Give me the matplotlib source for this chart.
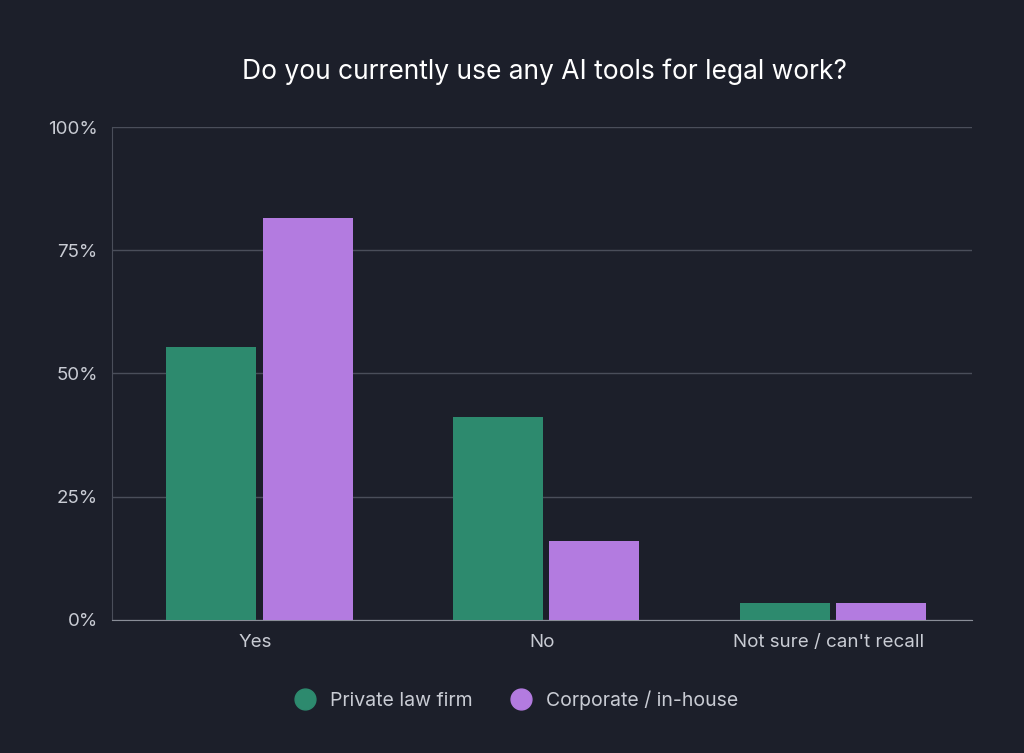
import matplotlib
matplotlib.use("Agg")
import matplotlib.pyplot as plt
import numpy as np

categories = ["Yes", "No", "Not sure / can't recall"]
series_names = ["Private law firm", "Corporate / in-house"]
private = [55.4, 41.2, 3.4]
corporate = [81.5, 16.0, 3.4]
yticks = [0, 25, 50, 75, 100]
ytick_labels = ["0%", "25%", "50%", "75%", "100%"]

bg = "#1c1f2a"
green = "#2d8a6e"
purple = "#b37be0"
txt = "#c9ccd4"
grid = "#4a4e5a"

plt.rcParams['font.family'] = ['Inter', 'DejaVu Sans']
fig = plt.figure(figsize=(10.24, 7.53), dpi=100, facecolor=bg)
ax = fig.add_axes([0.109, 0.177, 0.84, 0.654], facecolor=bg)
x = np.arange(len(categories))
w = 0.314
ax.bar(x - 0.153, private, w, color=green, label=series_names[0], zorder=3)
ax.bar(x + 0.184, corporate, w, color=purple, label=series_names[1], zorder=3)
ax.set_xlim(-0.5, 2.5)
ax.set_ylim(0, 100)
ax.set_yticks(yticks, ytick_labels)
ax.set_xticks(x, categories)
ax.yaxis.grid(True, color=grid, linewidth=1, zorder=0)
for s in ["top", "right"]:
    ax.spines[s].set_visible(False)
ax.spines["left"].set_color(grid)
ax.spines["bottom"].set_color("#8a8e98")
ax.tick_params(colors=txt, labelsize=13.5, length=0, pad=10)
for l in ax.get_xticklabels() + ax.get_yticklabels():
    l.set_color(txt)
fig.text(0.532, 0.905, "Do you currently use any AI tools for legal work?",
         ha="center", va="center", color="white", fontsize=19)
handles = [plt.Line2D([], [], marker="o", linestyle="", markersize=15, color=c) for c in (green, purple)]
fig.legend(handles, series_names, loc="center", bbox_to_anchor=(0.5, 0.07), ncol=2,
           frameon=False, fontsize=14, labelcolor=txt, handletextpad=0.3, columnspacing=1.5)
fig.savefig("out.png", dpi=100, facecolor=bg)
